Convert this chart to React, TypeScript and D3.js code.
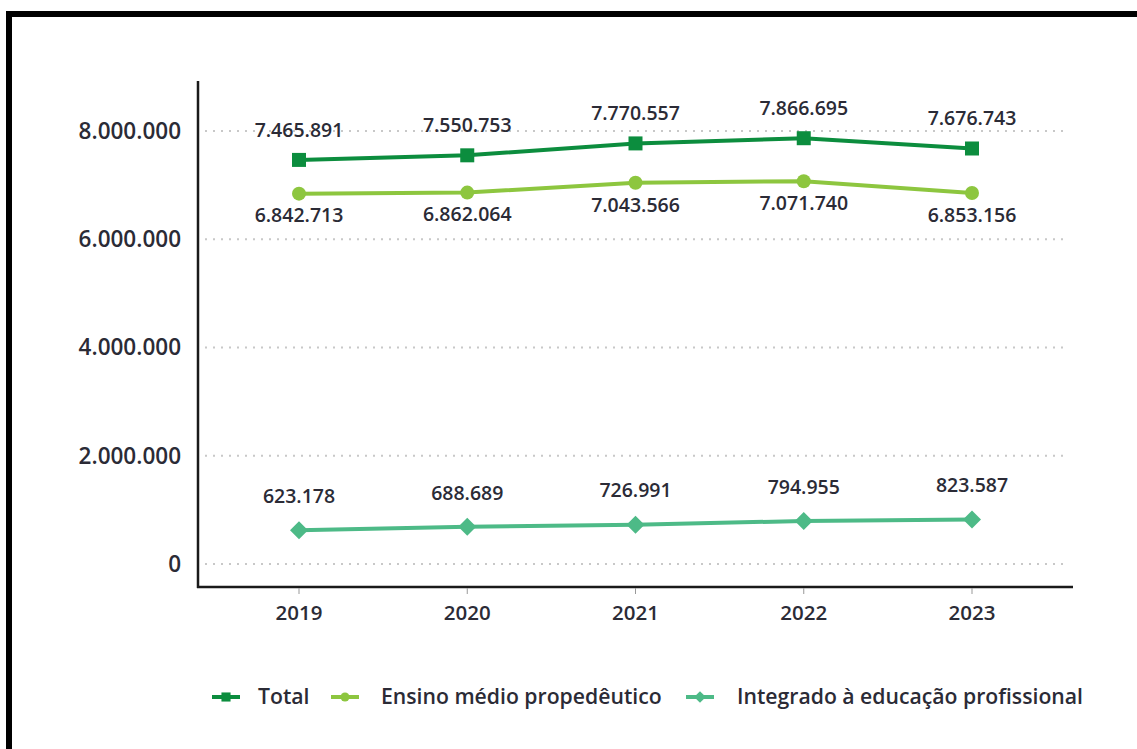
import React from "react";
import * as d3 from "d3";

const years = ["2019", "2020", "2021", "2022", "2023"];
const total = [7465891, 7550753, 7770557, 7866695, 7676743];
const ensino = [6842713, 6862064, 7043566, 7071740, 6853156];
const integrado = [623178, 688689, 726991, 794955, 823587];
const yTicks = [0, 2000000, 4000000, 6000000, 8000000];
const seriesNames = ["Total", "Ensino médio propedêutico", "Integrado à educação profissional"];

const W = 1137, H = 749;
const fmt = (v: number) => d3.format(",")(v).replace(/,/g, ".");
const FONT = "'Open Sans', sans-serif";
const TEXT = "#2b2b36";
const WEIGHT = 600;

export default function App() {
  const x = d3.scalePoint<string>().domain(years).range([299, 972]);
  const y = d3.scaleLinear().domain([0, 8000000]).range([564, 131]);
  const line = d3.line<number>().x((_, i) => x(years[i])!).y((d) => y(d));

  const series = [
    { name: seriesNames[0], data: total, color: "#0c8d3e", marker: "square", dy: -30 },
    { name: seriesNames[1], data: ensino, color: "#8dc63f", marker: "circle", dy: 22 },
    { name: seriesNames[2], data: integrado, color: "#4dba87", marker: "diamond", dy: -34 },
  ];

  const marker = (type: string, cx: number, cy: number, color: string, s = 1) => {
    if (type === "square") return <rect x={cx - 7 * s} y={cy - 7 * s} width={14 * s} height={14 * s} fill={color} />;
    if (type === "circle") return <circle cx={cx} cy={cy} r={7 * s} fill={color} />;
    const r = 9 * s;
    return <path d={`M${cx},${cy - r}L${cx + r},${cy}L${cx},${cy + r}L${cx - r},${cy}Z`} fill={color} />;
  };

  const legendX = [212, 331, 686];
  const legendTextX = [258, 381, 737];
  return (
    <svg width={W} height={H} style={{ position: "absolute", left: 0, top: 0, background: "#fff" }}>
      <rect x={9} y={14} width={W + 20} height={H + 20} fill="none" stroke="#000" strokeWidth={6} />
      {yTicks.map((t) => (
        <g key={t}>
          <line x1={205} x2={1068} y1={y(t)} y2={y(t)} stroke="#c8c8c8" strokeWidth={2} strokeDasharray="2,6" />
          <text x={181} y={y(t)} dy="0.35em" textAnchor="end" fontSize={22.5} fontWeight={WEIGHT} fontFamily={FONT} fill={TEXT}>{fmt(t)}</text>
        </g>
      ))}
      <line x1={198} x2={198} y1={81} y2={588} stroke="#1a1a1a" strokeWidth={2.5} />
      <line x1={197} x2={1073} y1={587} y2={587} stroke="#1a1a1a" strokeWidth={2.5} />
      {years.map((yr) => (
        <g key={yr}>
          <line x1={x(yr)} x2={x(yr)} y1={588} y2={594} stroke="#999" strokeWidth={1} />
          <text x={x(yr)} y={613} dy="0.35em" textAnchor="middle" fontSize={20.5} fontWeight={WEIGHT} fontFamily={FONT} fill={TEXT}>{yr}</text>
        </g>
      ))}
      {series.map((s) => (
        <g key={s.name}>
          <path d={line(s.data)!} fill="none" stroke={s.color} strokeWidth={4} />
          {s.data.map((v, i) => (
            <g key={i}>
              {marker(s.marker, x(years[i])!, y(v), s.color)}
              <text x={x(years[i])} y={y(v) + s.dy} dy="0.35em" textAnchor="middle" fontSize={19.5} fontWeight={WEIGHT} fontFamily={FONT} fill={TEXT}>{fmt(v)}</text>
            </g>
          ))}
        </g>
      ))}
      {series.map((s, i) => (
        <g key={s.name}>
          <line x1={legendX[i]} x2={legendX[i] + 28} y1={697} y2={697} stroke={s.color} strokeWidth={4} />
          {marker(s.marker, legendX[i] + 14, 697, s.color, 0.65)}
          <text x={legendTextX[i]} y={697} dy="0.35em" fontSize={21.2} fontWeight={WEIGHT} fontFamily={FONT} fill={TEXT}>{s.name}</text>
        </g>
      ))}
    </svg>
  );
}
